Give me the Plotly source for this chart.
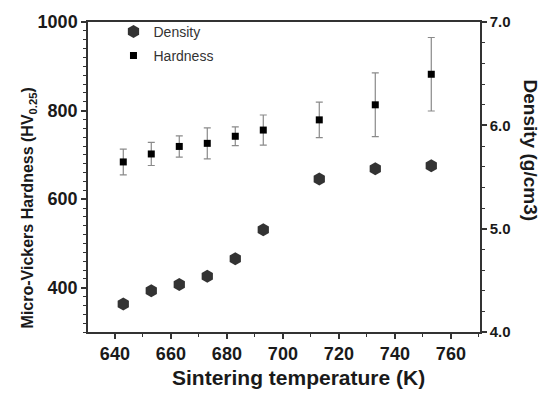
import plotly.graph_objects as go

temps = [643, 653, 663, 673, 683, 693, 713, 733, 753]
density = [4.27, 4.40, 4.46, 4.54, 4.71, 4.99, 5.48, 5.58, 5.61]
hardness = [684, 702, 719, 726, 742, 756, 779, 813, 882]
hard_err = [29, 26, 24, 35, 21, 34, 40, 72, 83]

x_ticks = [640, 660, 680, 700, 720, 740, 760]
y_ticks = [400, 600, 800, 1000]
y2_ticks = [4.0, 5.0, 6.0, 7.0]

FONT = "Liberation Sans, Arial, sans-serif"

fig = go.Figure()
fig.add_trace(go.Scatter(
    x=temps, y=density, mode="markers", name="Density", yaxis="y2",
    legendgroup="d",
    marker=dict(symbol="hexagon", size=13, color="#333333",
                line=dict(width=0)),
))
fig.add_trace(go.Scatter(
    x=temps, y=hardness, mode="markers", name="Hardness",
    legendgroup="h",
    marker=dict(symbol="square", size=7, color="black", line=dict(width=0)),
    error_y=dict(type="data", array=hard_err, visible=True,
                 color="#8a8a8a", thickness=1.2, width=3.5),
))

axis_common = dict(
    showline=True, linecolor="#333333", linewidth=1.5,
    ticks="outside", tickcolor="#333333", tickwidth=1.5, ticklen=5,
    showgrid=False, zeroline=False,
)
big_tick = dict(family=FONT, size=18, color="#1a1a1a")
small_tick = dict(family=FONT, size=15, color="#1a1a1a")

fig.update_layout(
    width=546, height=394,
    margin=dict(l=88, r=66, t=17, b=62),
    paper_bgcolor="white", plot_bgcolor="white",
    showlegend=True,
    legend=dict(x=0.065, y=1.02, xanchor="left", yanchor="top",
                bgcolor="rgba(0,0,0,0)", tracegroupgap=3,
                font=dict(family=FONT, size=14, color="#333333")),
    xaxis=dict(range=[630.4, 770.4], tickvals=x_ticks,
               ticktext=[f"<b>{v}</b>" for v in x_ticks], mirror=True,
               tickfont=big_tick,
               minor=dict(dtick=10, tick0=630, ticks="outside", ticklen=3,
                          tickcolor="#333333", tickwidth=1.2),
               **axis_common),
    yaxis=dict(range=[300, 1000], tickvals=y_ticks,
               ticktext=[f"<b>{v}</b>" for v in y_ticks],
               tickfont=big_tick,
               minor=dict(dtick=20, tick0=300, ticks="outside", ticklen=3,
                          tickcolor="#333333", tickwidth=1.2),
               **axis_common),
    yaxis2=dict(range=[4.0, 7.0], tickvals=y2_ticks,
                ticktext=[f"<b>{v:.1f}</b>" for v in y2_ticks],
                overlaying="y", side="right", tickfont=small_tick,
                minor=dict(dtick=0.2, tick0=4.0, ticks="outside", ticklen=3,
                           tickcolor="#333333", tickwidth=1.2),
                **axis_common),
)

fig.add_annotation(
    text="<b>Micro-Vickers Hardness (HV<sub>0.25</sub>)</b>",
    xref="paper", yref="paper", x=-0.152, y=0.40,
    xanchor="center", yanchor="middle", textangle=-90, showarrow=False,
    font=dict(family=FONT, size=16, color="#1a1a1a"),
)
fig.add_annotation(
    text="<b>Density (g/cm3)</b>",
    xref="paper", yref="paper", x=1.128, y=0.588,
    xanchor="center", yanchor="middle", textangle=90, showarrow=False,
    font=dict(family=FONT, size=19, color="#1a1a1a"),
)
fig.add_annotation(
    text="<b>Sintering temperature (K)</b>",
    xref="paper", yref="paper", x=0.538, y=-0.146,
    xanchor="center", yanchor="middle", showarrow=False,
    font=dict(family=FONT, size=21, color="#1a1a1a"),
)

fig.write_html("out.html")
